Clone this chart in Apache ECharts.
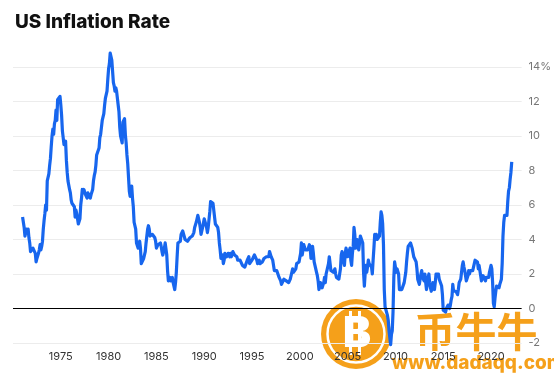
<!DOCTYPE html>
<html><head><meta charset="utf-8">
<script src="https://cdn.jsdelivr.net/npm/echarts@6/dist/echarts.min.js"></script>
<style>html,body{margin:0;padding:0;background:#fff}#c{width:554px;height:373px}</style>
</head><body><div id="c"></div>
<script>
// Monthly US CPI year-over-year inflation (%), Jan 1971 – Mar 2022
const startYear = 1971;
const cpi1970s = [
 5.3,5.0,4.7,4.2,4.4,4.6,4.4,4.6,4.1,3.8,3.3,3.3,
 3.3,3.5,3.5,3.5,3.2,2.7,2.9,2.9,3.2,3.4,3.7,3.4,
 3.6,3.9,4.6,5.1,5.5,6.0,5.7,7.4,7.4,7.8,8.3,8.7,
 9.4,10.0,10.4,10.1,10.7,10.9,11.5,10.9,12.1,12.1,12.2,12.3,
 11.8,11.2,10.3,10.2,9.5,9.4,9.7,8.6,7.9,7.4,7.4,6.9,
 6.7,6.3,6.1,6.1,6.2,5.9,5.3,5.7,5.5,5.5,4.9,4.9,
 5.2,6.0,6.4,6.9,6.7,6.9,6.8,6.6,6.6,6.4,6.7,6.7,
 6.8,6.4,6.6,6.5,6.9,7.4,7.7,7.9,8.3,8.9,8.9,9.0,
 9.3,9.9,10.1,10.5,10.9,10.9,11.3,11.8,12.2,12.1,12.6,13.3
];
const cpi1980s = [
 13.9,14.2,14.8,14.7,14.4,14.4,13.1,12.9,12.6,12.8,12.6,12.5,
 11.8,11.4,10.5,10.0,9.8,9.6,10.8,10.8,11.0,10.1,9.6,8.9,
 8.4,7.6,6.8,6.5,6.7,7.1,6.4,5.9,5.0,5.1,4.6,3.8,
 3.7,3.5,3.6,3.9,3.5,2.6,2.5,2.6,2.9,2.9,3.3,3.8,
 4.2,4.6,4.8,4.6,4.2,4.2,4.2,4.3,4.3,4.3,4.1,3.9,
 3.5,3.5,3.7,3.7,3.8,3.8,3.6,3.3,3.1,3.2,3.5,3.8,
 3.9,3.1,2.2,1.6,1.5,1.8,1.6,1.6,1.8,1.5,1.3,1.1,
 1.5,2.1,3.0,3.8,3.9,3.7,3.9,4.3,4.4,4.5,4.5,4.4,
 4.0,3.9,3.9,3.9,3.9,4.0,4.1,4.0,4.2,4.2,4.2,4.4,
 4.7,4.8,5.0,5.1,5.4,5.2,5.0,4.7,4.3,4.5,4.7,4.6
];
const cpi1990s = [
 5.2,5.3,5.2,4.7,4.4,4.7,4.8,5.6,6.2,6.3,6.3,6.1,
 5.7,5.3,4.9,4.9,5.0,4.7,4.4,3.8,3.4,2.9,3.0,3.1,
 2.6,2.8,3.2,3.2,3.0,3.1,3.2,3.1,3.0,3.2,3.0,2.9,
 3.3,3.2,3.1,3.2,3.2,3.0,2.8,2.8,2.7,2.8,2.7,2.7,
 2.5,2.5,2.5,2.4,2.3,2.5,2.8,2.9,3.0,2.6,2.7,2.7,
 2.8,2.9,2.9,3.1,3.2,3.0,2.8,2.6,2.5,2.8,2.6,2.5,
 2.7,2.7,2.8,2.9,2.9,2.8,3.0,2.9,3.0,3.0,3.3,3.3,
 3.0,3.0,2.8,2.5,2.2,2.3,2.2,2.2,2.2,2.1,1.8,1.7,
 1.6,1.4,1.4,1.4,1.7,1.7,1.7,1.6,1.5,1.5,1.5,1.6,
 1.7,1.6,1.7,2.3,2.1,2.0,2.1,2.3,2.6,2.6,2.6,2.7
];
const cpi2000s = [
 2.7,3.2,3.8,3.1,3.2,3.7,3.7,3.4,3.5,3.4,3.4,3.4,
 3.7,3.5,2.9,3.3,3.6,3.2,2.7,2.7,2.6,2.1,1.9,1.6,
 1.1,1.1,1.5,1.6,1.2,1.1,1.5,1.8,1.5,2.0,2.2,2.4,
 2.6,3.0,3.0,2.2,2.1,2.1,2.1,2.2,2.3,2.0,1.8,1.9,
 1.9,1.7,1.7,2.3,3.1,3.3,3.0,2.7,2.5,3.2,3.5,3.3,
 3.0,3.0,3.1,3.5,2.8,2.5,3.2,3.6,4.7,4.3,3.5,3.4,
 4.0,3.6,3.4,3.5,4.2,4.3,4.1,3.8,2.1,1.3,2.0,2.5,
 2.1,2.4,2.8,2.6,2.7,2.7,2.4,2.0,2.8,3.5,4.3,4.1,
 4.3,4.0,4.0,3.9,4.2,5.0,5.6,5.4,4.9,3.7,1.1,0.1,
 0.0,0.2,-0.4,-0.7,-1.3,-1.4,-2.1,-1.5,-1.3,-0.2,1.8,2.7
];
const cpi2010s = [
 2.6,2.1,2.3,2.2,2.0,1.1,1.2,1.1,1.1,1.2,1.1,1.5,
 1.6,2.1,2.7,3.2,3.6,3.6,3.6,3.8,3.9,3.5,3.4,3.0,
 2.9,2.9,2.7,2.3,1.7,1.7,1.4,1.7,2.0,2.2,1.8,1.7,
 1.6,2.0,1.5,1.1,1.4,1.8,2.0,1.5,1.2,1.0,1.2,1.5,
 1.6,1.1,1.5,2.0,2.1,2.1,2.0,1.7,1.7,1.7,1.3,0.8,
 -0.1,0.0,-0.1,-0.2,0.0,0.1,0.2,0.2,0.0,0.2,0.5,0.7,
 1.4,1.0,0.9,1.1,1.0,1.0,0.8,1.1,1.5,1.6,1.7,2.1,
 2.5,2.7,2.4,2.2,1.9,1.6,1.7,1.9,2.2,2.0,2.2,2.1,
 2.1,2.2,2.4,2.5,2.8,2.9,2.9,2.7,2.3,2.5,2.2,1.9,
 1.6,1.5,1.9,2.0,1.8,1.6,1.8,1.7,1.7,1.8,2.1,2.3
];
const cpi2020s = [
 2.5,2.3,1.5,0.3,0.1,0.6,1.0,1.3,1.4,1.2,1.2,1.4,
 1.4,1.7,2.6,4.2,5.0,5.4,5.4,5.3,5.4,6.2,6.8,7.0,
 7.5,7.9,8.5
];
const yTicks = [-2,0,2,4,6,8,10,12,14];
const xTickYears = [1975,1980,1985,1990,1995,2000,2005,2010,2015,2020];
const titleText = 'US Inflation Rate';

const all = [].concat(cpi1970s, cpi1980s, cpi1990s, cpi2000s, cpi2010s, cpi2020s);
const data = all.map((v, i) => [startYear + i / 12, v]);

const chart = echarts.init(document.getElementById('c'), null, {renderer: 'canvas'});
const orange = '#F5A01A';
const wm = (el) => Object.assign({zlevel: 0, z: 0, silent: true}, el);
chart.setOption({
  animation: false,
  title: {
    text: titleText, left: 10, top: 8,
    textStyle: {fontFamily: 'Inter', fontWeight: 800, fontSize: 19, color: '#111'}
  },
  grid: {left: 13, right: 31, top: 67, bottom: 30, containLabel: false},
  xAxis: {
    type: 'value', min: 1970, max: 2023.2, interval: 5, zlevel: 1,
    axisLine: {show: false}, axisTick: {show: false}, splitLine: {show: false},
    axisLabel: {
      showMinLabel: false, showMaxLabel: false, margin: 8,
      fontFamily: 'Inter', fontSize: 11, color: '#333',
      formatter: v => xTickYears.includes(v) ? String(v) : ''
    }
  },
  yAxis: {
    type: 'value', position: 'right', min: yTicks[0], max: yTicks[yTicks.length - 1], interval: 2, zlevel: 1,
    axisLine: {show: false}, axisTick: {show: false},
    splitLine: {lineStyle: {color: '#ececec', width: 1}},
    axisLabel: {
      margin: 7, fontFamily: 'Inter', fontSize: 11, color: '#777',
      formatter: v => v === 14 ? '14%' : String(v)
    }
  },
  graphic: [
    wm({type: 'circle', shape: {cx: 356, cy: 334, r: 35}, style: {fill: orange}}),
    wm({type: 'circle', shape: {cx: 356, cy: 334, r: 28.5}, style: {fill: 'none', stroke: '#fff', lineWidth: 2.5}}),
    wm({type: 'rect', shape: {x: 349, y: 311, width: 3, height: 44}, style: {fill: '#fff'}}),
    wm({type: 'rect', shape: {x: 358, y: 311, width: 3, height: 44}, style: {fill: '#fff'}}),
    wm({type: 'text', x: 357, y: 334, style: {text: 'B', fill: '#fff', font: '900 42px Inter', textAlign: 'center', textVerticalAlign: 'middle'}}),
    wm({type: 'text', x: 476, y: 331, style: {text: '币牛牛', fill: orange, font: 'bold 41px "Noto Sans CJK SC"', textAlign: 'center', textVerticalAlign: 'middle'}}),
    wm({type: 'text', x: 478, y: 363, style: {text: 'www.dadaqq.com', fill: orange, font: '800 19px Inter', textAlign: 'center', textVerticalAlign: 'middle'}})
  ],
  series: [{
    type: 'line', data: data, showSymbol: false, symbol: 'none', zlevel: 1, z: 5, clip: false,
    lineStyle: {color: '#1766ee', width: 3.2, join: 'round'},
    markLine: {
      silent: true, symbol: 'none', label: {show: false}, zlevel: 1, z: 6,
      lineStyle: {color: '#000', width: 1.2, type: 'solid'},
      data: [{yAxis: 0}]
    }
  }]
});
</script></body></html>
